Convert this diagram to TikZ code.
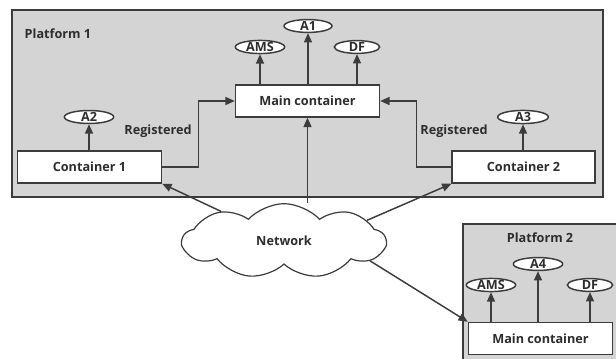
\documentclass[tikz,border=0pt]{standalone}
\usepackage{fontspec}
\setmainfont{Open Sans}
\usetikzlibrary{arrows.meta,shapes.geometric,shapes.symbols}
\definecolor{platgray}{RGB}{212,212,212}
\definecolor{edgegray}{RGB}{60,60,60}
\definecolor{textgray}{RGB}{45,45,45}
\tikzset{
	box/.style={draw=edgegray, line width=1.1pt, fill=white, minimum width=#1, minimum height=24pt, inner sep=0pt},
	agent/.style={ellipse, draw=edgegray, line width=1.1pt, fill=white, minimum width=#1, minimum height=9.5pt, inner sep=0pt},
	platform/.style={draw=edgegray, line width=1.1pt, fill=platgray},
	link/.style={draw=edgegray, line width=1.1pt, -{Triangle[length=7pt,width=6pt]}},
}

\begin{document}
\begin{tikzpicture}[x=0.75pt, y=-0.75pt, font=\fontsize{9.5}{11}\selectfont\bfseries, text=textgray]
		%%%%% START %%%%%
		\useasboundingbox (0,0) rectangle (616,359);
		\clip (0,0) rectangle (616,359);
		
		% platforms
		\draw[platform] (12, 10) rectangle (603, 197);
		\node[anchor=west] (plat1) at (20, 34) {Platform 1};
		\draw[platform] (463, 224) rectangle (640, 400);
		\node (plat2) at (540, 238) {Platform 2};
		
		% containers
		\node[box=108pt] (main1) at (307.5, 101) {Main container};
		\node[box=108pt] (cont1) at (89.5, 167) {Container 1};
		\node[box=107pt] (cont2) at (523.5, 167) {Container 2};
		\node[box=108pt] (main2) at (540.5, 338.5) {Main container};
		
		% agents
		\node[agent=36pt] (a1) at (308, 26) {A1};
		\node[agent=37pt] (ams1) at (260, 47) {AMS};
		\node[agent=34pt] (df1) at (357, 47) {DF};
		\node[agent=37pt] (a2) at (89, 117) {A2};
		\node[agent=38pt] (a3) at (523, 117) {A3};
		\node[agent=37pt] (a4) at (538, 264) {A4};
		\node[agent=37pt] (ams2) at (491, 285) {AMS};
		\node[agent=34pt] (df2) at (590, 285) {DF};
		
		\draw[link] (main1.north -| a1) -- (a1);
		\draw[link] (main1.north -| ams1) -- (ams1);
		\draw[link] (main1.north -| df1) -- (df1);
		\draw[link] (cont1.north -| a2) -- (a2);
		\draw[link] (cont2.north -| a3) -- (a3);
		\draw[link] (main2.north -| a4) -- (a4);
		\draw[link] (main2.north -| ams2) -- (ams2);
		\draw[link] (main2.north -| df2) -- (df2);
		
		% registration
		\draw[link] (cont1.east) -- ++(36, 0) |- (main1.west);
		\draw[link] (cont2.west) -- ++(-35, 0) |- (main1.east);
		\node (reg1) at (158, 131) {Registered};
		\node (reg2) at (454, 131) {Registered};
		
		% network
		\node[cloud, cloud puffs=9, cloud puff arc=95, aspect=2.9, draw=edgegray, line width=0.9pt, fill=white, minimum width=152pt, minimum height=56pt, inner sep=0pt] (net) at (284, 241) {Network};
		
		\draw[link] (net) -- (cont1.south east);
		\draw[link] (net.14) -- (cont2.south west);
		\draw[link] (main1.south |- net.north) -- (main1.south);
		\draw[link] (net.-13) -- (main2.north west);
		
		%%%%% END %%%%%
	\end{tikzpicture}
\end{document}
